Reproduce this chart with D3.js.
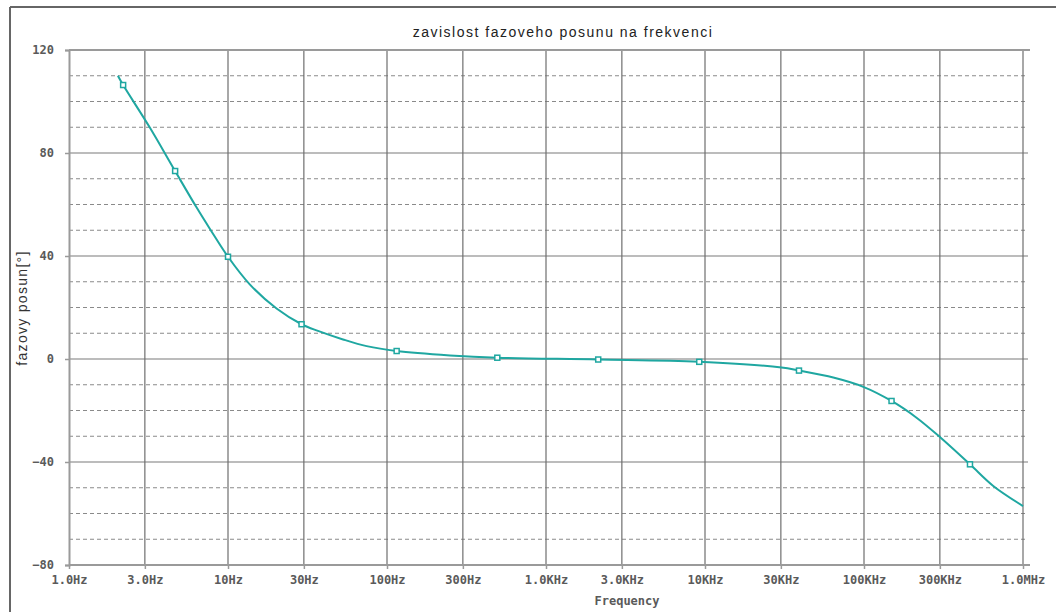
<!DOCTYPE html>
<html lang="en">
<head>
  <meta charset="utf-8">
  <title>zavislost fazoveho posunu na frekvenci</title>
  <script src="https://d3js.org/d3.v7.min.js"></script>
  <style>
    body { margin: 0; background: #fff; }
    svg { display: block; }
    .tick-label { font-family: "DejaVu Sans Mono", monospace; font-weight: bold; font-size: 12px; fill: #5a5a5a; }
    .title { font-family: "Liberation Sans", Arial, sans-serif; font-size: 14px; fill: #222; letter-spacing: 1.5px; }
    .ylab { font-family: "Liberation Sans", Arial, sans-serif; font-size: 14px; fill: #333; letter-spacing: 1.3px; }
  </style>
</head>
<body>
  <div id="container"></div>
  <script>
    // curve (Hz, degrees)
    var freq = [2.03, 2.19, 3.23, 4.65, 6.35, 7.7, 10, 13.7, 20.2, 29, 36.8, 52.9, 74.5, 115, 249, 494,
                2130, 9200, 30300, 39000, 64100, 99000, 149000, 214000, 300000, 464000, 650000, 1000000];
    var phase = [110, 106.4, 89.8, 73.0, 58.8, 50.5, 39.7, 29.0, 19.6, 13.5, 10.9, 7.6, 5.0, 3.1, 1.4, 0.5,
                 -0.2, -1.1, -3.3, -4.5, -7.2, -10.8, -16.3, -22.8, -30.3, -40.9, -49.3, -57.1];

    // square markers on the trace
    var markerFreq = [2.19, 4.65, 10, 29, 115, 494, 2130, 9200, 39000, 149000, 464000];
    var markerPhase = [106.4, 73.0, 39.7, 13.5, 3.1, 0.5, -0.2, -1.1, -4.5, -16.3, -40.9];

    var xTicks = [1, 3, 10, 30, 100, 300, 1e3, 3e3, 1e4, 3e4, 1e5, 3e5, 1e6];
    var xLabels = ["1.0Hz", "3.0Hz", "10Hz", "30Hz", "100Hz", "300Hz", "1.0KHz", "3.0KHz",
                   "10KHz", "30KHz", "100KHz", "300KHz", "1.0MHz"];
    var yTicks = [-80, -40, 0, 40, 80, 120];
    var yMinor = [-70, -60, -50, -30, -20, -10, 10, 20, 30, 50, 60, 70, 90, 100, 110];

    var w = 1056, h = 612;
    var svg = d3.select("#container").append("svg")
      .attr("width", w).attr("height", h);

    var x = d3.scaleLog().domain([1, 1e6]).range([69, 1023]);
    var y = d3.scaleLinear().domain([-80, 120]).range([565, 50]);

    // outer frame
    svg.append("line").attr("x1", 10).attr("x2", w).attr("y1", 7).attr("y2", 7)
      .attr("stroke", "#666").attr("stroke-width", 2);
    svg.append("line").attr("x1", 10).attr("x2", 10).attr("y1", 7).attr("y2", h)
      .attr("stroke", "#666").attr("stroke-width", 2);

    // minor dashed grid
    svg.selectAll(".minor").data(yMinor).enter().append("line")
      .attr("x1", 69).attr("x2", 1028)
      .attr("y1", function(d) { return y(d); }).attr("y2", function(d) { return y(d); })
      .attr("stroke", "#8a8a8a").attr("stroke-width", 1.2).attr("stroke-dasharray", "4,3");

    // major horizontal grid
    svg.selectAll(".hmajor").data(yTicks.filter(function(d) { return d > -80 && d < 120; })).enter().append("line")
      .attr("x1", 69).attr("x2", 1028)
      .attr("y1", function(d) { return y(d); }).attr("y2", function(d) { return y(d); })
      .attr("stroke", "#7a7a7a").attr("stroke-width", 1.2);

    // vertical grid
    svg.selectAll(".vmajor").data(xTicks.slice(1)).enter().append("line")
      .attr("x1", function(d) { return x(d); }).attr("x2", function(d) { return x(d); })
      .attr("y1", 50).attr("y2", 565)
      .attr("stroke", "#6e6e6e").attr("stroke-width", 1.2);

    // top border of plot
    svg.append("line").attr("x1", 69).attr("x2", 1030).attr("y1", 50).attr("y2", 50)
      .attr("stroke", "#9a9a9a").attr("stroke-width", 2);

    // axes
    var xAxis = svg.append("g").attr("transform", "translate(0,565)")
      .call(d3.axisBottom(x).tickValues(xTicks)
        .tickFormat(function(d, i) { return xLabels[i]; }).tickSize(4).tickPadding(6));
    var yAxis = svg.append("g").attr("transform", "translate(69,0)")
      .call(d3.axisLeft(y).tickValues(yTicks).tickSize(4).tickPadding(11));

    [xAxis, yAxis].forEach(function(g) {
      g.select(".domain").attr("stroke", "#9a9a9a").attr("stroke-width", 2);
      g.selectAll(".tick line").attr("stroke", "#9a9a9a").attr("stroke-width", 1.5);
      g.selectAll(".tick text").attr("class", "tick-label").attr("font-family", null).attr("font-size", null).attr("fill", null);
    });
    xAxis.select(".domain").attr("d", "M69,0H1030");

    // trace
    var pts = freq.map(function(f, i) { return [f, phase[i]]; });
    var line = d3.line()
      .x(function(d) { return x(d[0]); })
      .y(function(d) { return y(d[1]); })
      .curve(d3.curveCatmullRom.alpha(0.5));

    svg.append("path").datum(pts)
      .attr("d", line)
      .attr("fill", "none")
      .attr("stroke", "#1fa7a1")
      .attr("stroke-width", 2);

    svg.selectAll(".marker").data(markerFreq).enter().append("rect")
      .attr("x", function(d) { return x(d) - 2.5; })
      .attr("y", function(d, i) { return y(markerPhase[i]) - 2.5; })
      .attr("width", 5).attr("height", 5)
      .attr("fill", "#fff").attr("stroke", "#1fa7a1").attr("stroke-width", 1.5);

    // texts
    svg.append("text").attr("class", "title")
      .attr("x", 563).attr("y", 37).attr("text-anchor", "middle")
      .text("zavislost fazoveho posunu na frekvenci");

    svg.append("text").attr("class", "ylab")
      .attr("transform", "translate(27,308) rotate(-90)")
      .attr("text-anchor", "middle")
      .text("fazovy posun[°]");

    svg.append("text").attr("class", "tick-label")
      .attr("x", 627).attr("y", 605).attr("text-anchor", "middle")
      .text("Frequency");
  </script>
</body>
</html>
